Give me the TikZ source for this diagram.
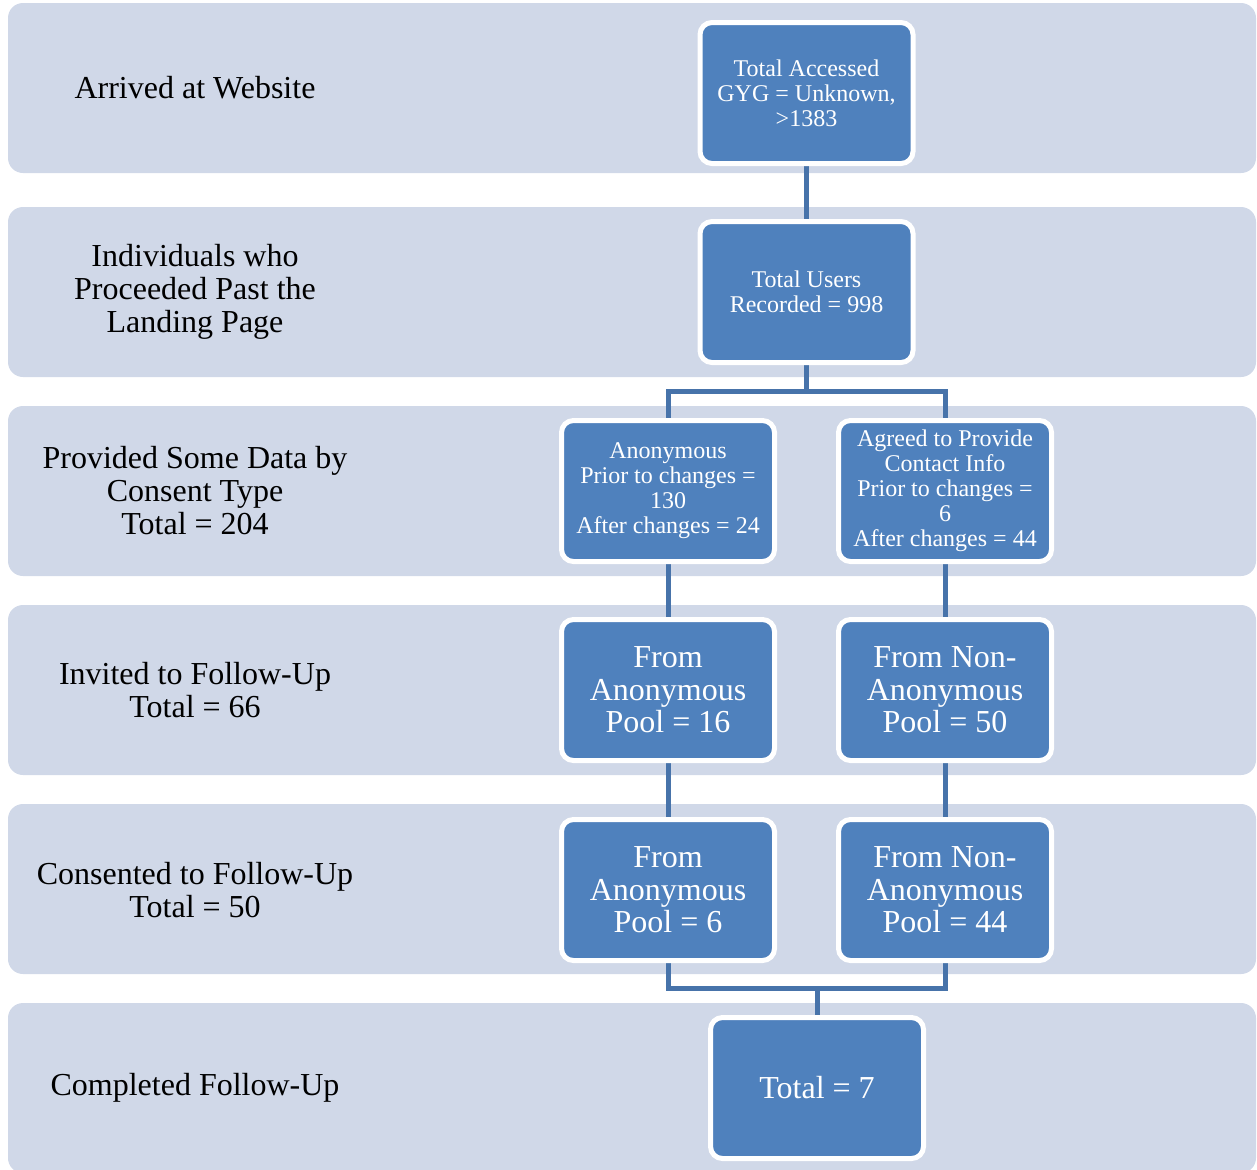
\documentclass[tikz,border=0pt]{standalone}
\usepackage{fontspec}
\setmainfont{Liberation Serif}
\definecolor{bandc}{RGB}{208,216,232}
\definecolor{nodec}{RGB}{79,129,189}
\definecolor{linec}{RGB}{71,115,170}
\tikzset{
  band/.style={fill=bandc, draw=none, rounded corners=7.5pt},
  bandlabel/.style={align=center, font=\fontsize{16pt}{16.5pt}\selectfont, text=black},
  box/.style={fill=nodec, draw=white, line width=2.5pt, rounded corners=6pt,
    minimum width=106.5pt, minimum height=70.5pt, align=center, text=white, inner sep=1pt},
  smalltxt/.style={font=\fontsize{12pt}{12.5pt}\selectfont},
  bigtxt/.style={font=\fontsize{16pt}{16.3pt}\selectfont},
  conn/.style={draw=linec, line width=2.5pt}
}
\begin{document}
\begin{tikzpicture}[x=0.5pt,y=-0.5pt]
\useasboundingbox (0,0) rectangle (1257,1169);
% bands
\foreach \t/\n in {3/b1,207/b2,406/b3,605/b4,804/b5,1003/b6}{
  \fill[band] (8,\t) rectangle (1256,\t+170);
}
% band labels
\node[bandlabel] (l1) at (195,88) {Arrived at Website};
\node[bandlabel] (l2) at (195,292) {Individuals who\\Proceeded Past the\\Landing Page};
\node[bandlabel] (l3) at (195,491) {Provided Some Data by\\Consent Type\\Total = 204};
\node[bandlabel] (l4) at (195,690) {Invited to Follow-Up\\Total = 66};
\node[bandlabel] (l5) at (195,890) {Consented to Follow-Up\\Total = 50};
\node[bandlabel] (l6) at (195,1088) {Completed Follow-Up};
% coordinates for connectors
\coordinate (j2) at (806,391);
\coordinate (j2l) at (668,391);
\coordinate (j2r) at (945,391);
\coordinate (j5l) at (668,988);
\coordinate (j5r) at (945,988);
\coordinate (j5) at (817,988);
% connectors (behind nodes)
\draw[conn] (806,93) -- (806,292);
\draw[conn] (806,292) -- (j2) -- (j2l) -- (668,491);
\draw[conn] (j2) -- (j2r) -- (945,491);
\draw[conn] (668,491) -- (668,890);
\draw[conn] (945,491) -- (945,890);
\draw[conn] (668,890) -- (j5l) -- (j5r) -- (945,890);
\draw[conn] (j5) -- (817,1088);
% nodes
\node[box, smalltxt] (n1) at (806.5,93) {Total Accessed\\GYG = Unknown,\\>1383};
\node[box, smalltxt] (n2) at (806.5,292) {Total Users\\Recorded = 998};
\node[box, smalltxt] (n3a) at (668,491) {Anonymous\\Prior to changes =\\130\\After changes = 24};
\node[box, smalltxt] (n3b) at (945,491) {Agreed to Provide\\Contact Info\\Prior to changes =\\6\\After changes = 44};
\node[box, bigtxt] (n4a) at (668,690) {From\\Anonymous\\Pool = 16};
\node[box, bigtxt] (n4b) at (945,690) {From Non-\\Anonymous\\Pool = 50};
\node[box, bigtxt] (n5a) at (668,890) {From\\Anonymous\\Pool = 6};
\node[box, bigtxt] (n5b) at (945,890) {From Non-\\Anonymous\\Pool = 44};
\node[box, bigtxt] (n6) at (817,1088) {Total = 7};
\end{tikzpicture}
\end{document}
